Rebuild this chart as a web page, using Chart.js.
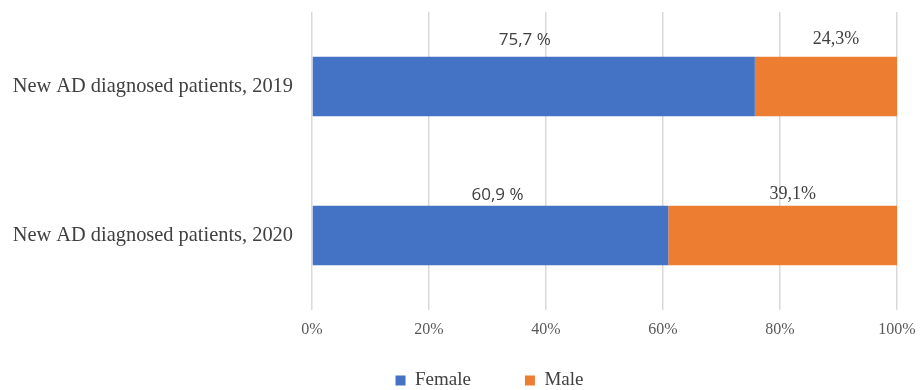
<!DOCTYPE html>
<html>
<head>
<meta charset="utf-8">
<script src="https://cdn.jsdelivr.net/npm/chart.js@4/dist/chart.umd.min.js"></script>
<style>
  html, body { margin: 0; padding: 0; background: #fff; }
  #wrap { width: 920px; height: 390px; }
</style>
</head>
<body>
<div id="wrap"><canvas id="chart"></canvas></div>
<script>
const categories = ['New AD diagnosed patients, 2019', 'New AD diagnosed patients, 2020'];
const femaleValues = [75.7, 60.9];
const maleValues = [24.3, 39.1];
const femaleLabels = ['75,7 %', '60,9 %'];
const maleLabels = ['24,3%', '39,1%'];
const xTicks = [0, 20, 40, 60, 80, 100];

const serif = '"Liberation Serif", "Times New Roman", serif';

// labels sit just above each bar segment (small nudges as in the original)
const segmentLabels = {
  id: 'segmentLabels',
  afterDatasetsDraw(chart) {
    const { ctx } = chart;
    const texts = [femaleLabels, maleLabels];
    ctx.save();
    ctx.fillStyle = '#404040';
    ctx.textAlign = 'center';
    ctx.textBaseline = 'bottom';
    chart.data.datasets.forEach((ds, di) => {
      const meta = chart.getDatasetMeta(di);
      meta.data.forEach((bar, i) => {
        const left = Math.min(bar.x, bar.base);
        const right = Math.max(bar.x, bar.base);
        const top = bar.y - bar.height / 2;
        ctx.font = (di === 0 ? '17px "Open Sans", sans-serif' : '18px ' + serif);
        const lift = i === 0 ? 8 : 2;
        const nudge = di === 0 ? (i === 0 ? -9 : 7) : 10;
        ctx.fillText(texts[di][i], (left + right) / 2 + nudge, top - lift);
      });
    });
    ctx.restore();
  },
};

// the legend in the original sits a bit right of centre
const legendShift = {
  id: 'legendShift',
  afterLayout(chart) {
    chart.legend.left += 41;
    chart.legend.right += 41;
  },
};

new Chart(document.getElementById('chart'), {
  type: 'bar',
  data: {
    labels: categories,
    datasets: [
      {
        label: 'Female',
        data: femaleValues,
        backgroundColor: '#4472C4',
        barPercentage: 0.4,
        categoryPercentage: 1,
      },
      {
        label: 'Male',
        data: maleValues,
        backgroundColor: '#ED7D31',
        barPercentage: 0.4,
        categoryPercentage: 1,
      },
    ],
  },
  options: {
    indexAxis: 'y',
    responsive: true,
    maintainAspectRatio: false,
    animation: false,
    layout: { padding: { top: 12, left: 0, right: 23, bottom: -10 } },
    scales: {
      x: {
        stacked: true,
        min: 0,
        max: 100,
        afterBuildTicks: (scale) => { scale.ticks = xTicks.map((v) => ({ value: v })); },
        afterFit: (scale) => {
          scale.height = 7;
          scale.paddingLeft = 0;
          scale.paddingRight = 0;
        },
        grid: { color: '#d9d9d9', lineWidth: 1.5, drawTicks: false },
        border: { display: false },
        ticks: {
          mirror: true,
          padding: -29,
          color: '#595959',
          font: { family: serif, size: 16 },
          callback: (v) => v + '%',
        },
      },
      y: {
        stacked: true,
        afterFit: (scale) => {
          scale.width = 312;
          scale.paddingTop = 0;
          scale.paddingBottom = 0;
        },
        grid: { display: false, drawTicks: false },
        border: { display: false },
        ticks: {
          padding: 19,
          color: '#404040',
          font: { family: serif, size: 20.4 },
        },
      },
    },
    plugins: {
      legend: {
        position: 'bottom',
        labels: {
          boxWidth: 10,
          boxHeight: 10,
          padding: 54,
          color: '#404040',
          font: { family: serif, size: 19 },
        },
      },
      tooltip: { enabled: false },
    },
  },
  plugins: [segmentLabels, legendShift],
});
</script>
</body>
</html>
